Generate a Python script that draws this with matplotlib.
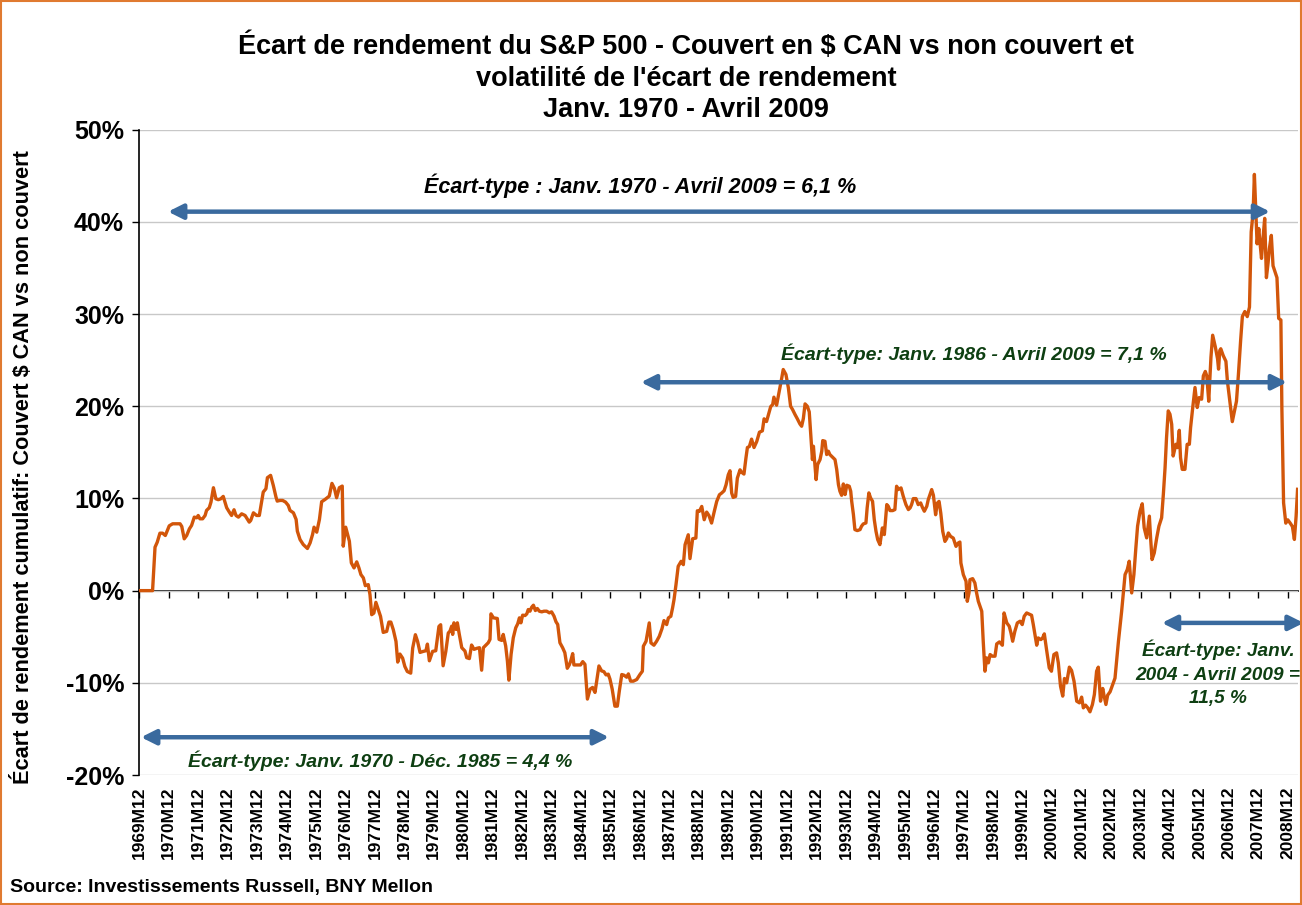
import matplotlib.pyplot as plt
import numpy as np
from matplotlib.patches import Rectangle

plt.rcParams['font.family'] = ['Liberation Sans', 'DejaVu Sans']

LINE_COLOR = '#D2560A'
ARROW_COLOR = '#3A6A9E'
NOTE_GREEN = '#0E3F12'

# months counted from 1969M12 (= 0), values in % (cumulative spread)
MONTHS_70S = [
    0, 5.4, 6.4, 7.3, 8.4, 9.5, 10.6, 12.2, 13.6, 16.6, 17.3, 18.3, 19.3, 20.4,
    21.3, 22.4, 23.4, 24.0, 24.7, 25.8, 26.8, 27.4, 28.5, 29.2, 30.2, 31.2, 32.2,
    33.2, 34.2, 35.6, 36.7, 37.6, 38.6, 39.4, 40.4, 41.7, 43.1, 44.8, 45.4, 46.5,
    47.8, 48.9, 49.9, 50.5, 51.6, 52.2, 53.5, 54.6, 55.7, 56.2, 57.3, 58.4, 59.6,
    60.7, 61.4, 62.8, 63.9, 64.4, 65.5, 66.8, 68.5, 69.6, 70.6, 71.2, 72.3, 73.4,
    74.3, 75.7, 77.4, 78.5, 79.5, 80.4, 81.5, 82.7, 83.1, 84.1, 84.9, 85.6, 86.4,
    87.5, 88.6, 89.5, 90.3, 91.3, 92.1, 93.3, 94.0, 94.7, 95.6, 96.4, 97.4, 98.3,
    99.4, 100.8, 101.7, 102.5, 103.5, 104.6, 105.3, 106.2, 107.3, 108.2, 109.2,
    110.6, 111.4, 112.5, 113.4, 114.4, 115.7, 116.8, 117.4, 118.2, 119.5, 120.8,
    122.1, 122.8, 123.8, 124.9, 125.9,
]
SPREAD_70S = [
    0, 0, 4.71, 5.25, 6.23, 6.23, 5.98, 7.03, 7.25, 7.25, 6.96, 5.62, 5.98, 6.70,
    7.07, 7.97, 7.90, 8.15, 7.79, 7.79, 8.15, 8.70, 8.99, 9.60, 11.16, 9.96, 9.86,
    9.96, 10.22, 8.99, 8.51, 8.15, 8.77, 8.15, 7.97, 8.33, 8.15, 7.43, 7.61, 8.44,
    8.15, 8.15, 9.78, 10.69, 11.05, 12.25, 12.5, 11.41, 10.14, 9.71, 9.78, 9.78, 9.60,
    9.24, 8.70, 8.44, 7.72, 6.45, 5.54, 5.0, 4.57, 5.18, 6.09, 6.88, 6.34, 7.72,
    9.64, 9.89, 10.25, 11.63, 11.09, 10.07, 11.16, 11.34, 4.82, 6.88, 6.09, 5.36, 3.01,
    2.46, 3.12, 2.46, 1.74, 1.38, 0.54, 0.65, -0.43, -2.61, -2.43, -1.27, -2.07, -2.79,
    -4.53, -4.42, -3.41, -3.41, -4.24, -5.51, -7.75, -6.88, -7.32, -8.22, -8.77,
    -8.95, -6.23, -4.78, -5.51, -6.70, -6.59, -6.52, -5.80, -7.61, -6.59, -6.52,
    -3.88, -3.70, -8.15, -6.59, -4.60,
]

MONTHS_80S = [
    126.6, 127.3, 127.7, 128.2, 129.1, 129.6, 130.4, 131.4, 132.7, 133.4, 134.5,
    135.4, 136.4, 137.5, 138.6, 139.5, 140.2, 141.3, 142.2, 142.9, 143.3, 144.3,
    145.9, 146.6, 147.7, 148.3, 149.3, 150.0, 150.6, 151.5, 152.4, 153.4, 154.2,
    154.9, 155.5, 156.2, 157.2, 157.9, 158.5, 159.2, 159.9, 160.6, 161.4, 162.2,
    163.0, 164.0, 164.9, 166.0, 167.1, 168.0, 169.0, 169.8, 170.5, 171.4, 172.5,
    173.4, 174.4, 175.2, 175.8, 176.6, 177.1, 178.5, 179.8, 180.7, 181.6, 182.6,
    183.7, 184.7, 185.7, 186.6, 187.3, 188.4, 189.3, 190.2, 191.1, 191.8, 192.7,
    193.8, 194.8, 195.6, 196.6, 197.5, 198.6, 199.3, 200.2, 201.3, 202.7, 204.0,
    205.0, 205.4, 206.5, 207.1, 207.8, 208.5, 209.7, 210.8, 211.9, 213.0, 213.8,
    214.9, 215.6, 216.6, 217.3, 217.9, 218.7, 219.6, 220.8, 221.7, 222.4, 223.7,
    224.4, 225.5, 226.8, 227.4, 228.2, 229.2, 230.2, 231.2, 232.1, 233.2, 234.3,
    235.3, 236.4, 237.3, 238.3, 239.1, 240.0, 240.7, 241.4, 242.0, 243.0, 243.7,
    244.8, 245.4, 246.4, 247.2, 247.8, 248.6, 249.5, 250.5, 251.6, 252.7, 253.9,
    254.6, 255.6, 256.3, 257.3,
]
SPREAD_80S = [
    -4.39, -3.85, -4.75, -3.49, -4.21, -3.49, -4.75, -6.19, -6.55, -7.27, -7.37,
    -5.90, -6.37, -6.26, -6.19, -8.63, -6.19, -5.90, -5.65, -5.29, -2.52, -2.95,
    -3.02, -5.29, -5.40, -4.75, -6.01, -7.63, -9.71, -6.91, -5.11, -4.03, -3.60,
    -2.95, -3.49, -2.66, -2.70, -2.52, -2.05, -2.23, -1.80, -1.58, -2.16, -1.94,
    -2.23, -2.30, -2.23, -2.23, -2.41, -2.30, -2.77, -3.38, -3.67, -5.65, -6.19,
    -6.73, -8.42, -8.06, -7.63, -6.83, -8.06, -8.06, -8.06, -7.70, -7.99, -11.76,
    -10.68, -10.50, -11.04, -9.42, -8.17, -8.71, -8.78, -9.14, -9.06, -9.60, -10.68,
    -12.53, -12.53, -10.90, -9.10, -9.17, -9.39, -9.03, -9.82, -9.82, -9.64, -9.10,
    -8.74, -6.03, -5.49, -4.58, -3.50, -5.67, -5.92, -5.49, -4.95, -4.12, -3.25,
    -3.68, -2.96, -2.78, -1.88, -0.97, 0.65, 2.64, 3.18, 2.82, 4.98, 6.06,
    3.47, 5.63, 5.70, 8.66, 8.59, 9.13, 7.69, 8.52, 8.16, 7.33, 8.59,
    9.68, 10.40, 10.58, 10.83, 11.48, 12.56, 13.00, 10.58, 10.11, 10.22, 12.20,
    13.10, 12.85, 12.64, 14.37, 15.52, 15.63, 16.43, 15.52, 16.17, 17.18, 17.33,
    18.63, 18.34, 18.99, 19.96,
]

MONTHS_90S = [
    258.1, 258.6, 259.7, 260.8, 261.8, 262.4, 263.5, 264.5, 265.4, 266.2, 267.2,
    268.1, 269.2, 269.9, 270.6, 271.3, 272.2, 273.0, 273.6, 274.3, 274.7, 275.1,
    275.8, 276.4, 277.4, 278.1, 278.5, 279.4, 280.1, 280.8, 281.4, 282.1, 282.8,
    283.5, 284.2, 284.9, 285.5, 286.2, 286.9, 287.6, 288.3, 289.3, 289.9, 290.3,
    291.0, 291.6, 292.6, 293.7, 294.3, 295.0, 296.1, 296.6, 297.3, 298.0, 298.8,
    299.5, 300.2, 300.9, 301.8, 302.8, 303.6, 304.6, 305.2, 305.9, 307.0, 307.9,
    308.6, 309.3, 310.4, 311.3, 312.4, 313.4, 314.1, 314.7, 315.4, 316.5, 317.4,
    318.4, 319.1, 319.9, 320.9, 321.5, 322.2, 322.9, 323.6, 324.5, 325.2, 325.9,
    326.6, 327.4, 328.3, 329.0, 329.7, 330.6, 331.7, 332.8, 333.7, 334.4, 334.8,
    335.8, 336.9, 337.4, 338.1, 338.5, 339.6, 340.5, 341.2, 341.9, 342.6, 343.3,
    343.9, 344.6, 345.3, 346.0, 346.7, 347.6, 348.7, 349.4, 350.5, 351.7, 352.4,
    353.5, 354.5, 355.2, 355.9, 356.8, 357.8, 358.9, 359.8, 360.6, 361.6, 362.5,
    363.6, 364.3, 365.0, 365.7, 366.3, 367.4, 368.1, 368.8, 369.7, 370.8, 371.7,
    372.7, 373.8, 374.5, 375.4, 376.3, 377.0, 377.9, 379.0, 379.9, 380.9, 382.0,
    383.1, 384.0, 384.7, 385.6, 386.5, 387.4, 388.4, 389.2, 390.1, 390.8, 391.7,
    392.6, 393.1, 393.9, 394.6, 395.6,
]
SPREAD_90S = [
    20.18, 20.98, 20.11, 21.63, 23.07, 23.98, 23.44, 21.99, 20.0, 19.64, 19.10,
    18.66, 18.08, 17.83, 18.66, 20.25, 20.0, 19.39, 16.93, 14.21, 15.66, 14.39,
    12.04, 13.67, 14.21, 15.12, 16.27, 16.20, 14.76, 15.12, 14.76, 14.58, 14.39,
    14.21, 13.13, 11.50, 10.78, 10.34, 11.57, 10.42, 11.43, 11.32, 10.78, 9.69,
    8.25, 6.62, 6.51, 6.62, 6.98, 7.23, 7.34, 8.97, 10.60, 10.05, 9.69,
    7.70, 6.44, 5.53, 4.99, 6.80, 6.08, 9.33, 9.15, 8.68, 8.68, 8.79,
    11.32, 10.96, 11.14, 10.24, 9.33, 8.79, 8.97, 9.33, 9.98, 9.98, 9.33,
    9.51, 9.04, 8.61, 9.15, 9.87, 10.42, 10.96, 10.34, 8.23, 9.49, 9.68,
    8.41, 6.43, 5.34, 5.63, 6.25, 5.88, 5.70, 4.80, 5.16, 5.27, 3.0,
    1.73, 1.01, -1.16, -0.25, 1.19, 1.30, 0.83, -0.25, -1.16, -1.70, -2.24,
    -5.49, -8.74, -7.29, -7.83, -6.93, -7.11, -7.11, -5.78, -5.56, -5.92, -2.42,
    -3.50, -3.86, -4.58, -5.49, -4.40, -3.50, -3.32, -3.68, -2.78, -2.42, -2.53,
    -2.67, -3.68, -4.77, -5.92, -5.13, -5.31, -5.13, -4.69, -6.39, -8.38, -8.74,
    -6.93, -6.75, -7.83, -10.36, -11.44, -9.53, -10.0, -8.30, -8.66, -9.82, -11.99,
    -12.17, -11.55, -12.71, -12.42, -12.71, -13.14, -12.35, -11.26, -8.74, -8.30, -11.99,
    -10.61, -11.34, -12.35, -11.34, -10.97,
]

MONTHS_00S = [
    397.6, 399.0, 400.3, 401.0, 401.7, 402.6, 403.4, 404.4, 405.3, 406.1, 406.8,
    407.8, 408.7, 409.5, 410.5, 411.6, 412.1, 412.7, 413.6, 414.6, 415.5, 416.6,
    417.3, 418.0, 418.6, 419.3, 420.0, 420.7, 421.3, 422.4, 423.1, 423.8, 424.3,
    425.0, 426.1, 427.0, 427.9, 428.4, 429.2, 430.2, 431.1, 431.9, 432.9, 433.6,
    434.4, 435.0, 435.8, 436.7, 437.4, 438.5, 439.4, 439.8, 440.3, 440.7, 441.7,
    442.8, 443.4, 444.4, 445.4, 446.1, 447.1, 447.9, 448.8, 449.5, 450.5, 451.5,
    452.4, 453.1, 453.9, 454.4, 455.0, 455.5, 456.2, 456.6, 457.3, 457.9, 458.6,
    459.3, 460.0, 460.5, 461.3, 462.0, 462.9, 463.6, 464.3, 465.2, 465.6, 466.3,
    467.2, 468.0, 469.0, 469.9, 470.7, 471.4, 472.0,
]
SPREAD_00S = [
    -9.49, -5.51, -2.25, -0.25, 1.74, 2.28, 3.19, -0.25, 1.74, 4.64, 6.99,
    8.62, 9.42, 6.81, 5.72, 8.08, 5.72, 3.37, 4.09, 5.72, 6.99, 7.90,
    10.43, 13.33, 16.59, 19.49, 19.13, 18.04, 14.60, 15.87, 15.51, 17.39, 14.42,
    13.15, 13.15, 15.87, 15.87, 17.68, 19.67, 22.03, 19.86, 20.94, 20.76, 23.29,
    23.77, 23.29, 20.54, 25.31, 27.70, 26.41, 25.13, 24.02, 26.04, 26.23, 25.49,
    24.87, 22.74, 20.54, 18.33, 19.25, 20.54, 23.47, 27.15, 29.72, 30.27, 29.72,
    30.75, 38.90, 41.10, 45.14, 41.10, 37.61, 39.27, 37.98, 36.03, 38.16, 40.37,
    33.94, 35.59, 37.06, 38.53, 35.23, 34.49, 33.94, 29.53, 29.35, 19.80, 9.52,
    7.32, 7.68, 7.32, 6.95, 5.55, 8.05, 10.99,
]

TICK_MONTHS = list(range(0, 469, 12))
TICK_LABELS = [f'{1969 + i}M12' for i in range(len(TICK_MONTHS))]
Y_TICKS = [-20, -10, 0, 10, 20, 30, 40, 50]

TITLE = ("Écart de rendement du S&P 500 - Couvert en $ CAN vs non couvert et\n"
         "volatilité de l'écart de rendement\n"
         "Janv. 1970 - Avril 2009")
Y_LABEL = 'Écart de rendement cumulatif: Couvert $ CAN vs non couvert'
SOURCE = 'Source: Investissements Russell, BNY Mellon'

# (start month, end month, level %, label, label month, label level %, colour, size)
NOTES = [
    (11.7, 460.8, 41.1, 'Écart-type : Janv. 1970 - Avril 2009 = 6,1 %', 204, 43.9, 'black', 15.5),
    (204.4, 467.7, 22.6, 'Écart-type: Janv. 1986 - Avril 2009 = 7,1 %', 340, 25.7, NOTE_GREEN, 14),
    (0.7, 191.4, -15.9, 'Écart-type: Janv. 1970 - Déc. 1985 = 4,4 %', 98, -18.5, NOTE_GREEN, 14),
    (416.7, 474.5, -3.5, 'Écart-type: Janv.\n2004 - Avril 2009 =\n11,5 %', 439.6, -9.0, NOTE_GREEN, 13.7),
]


def main() -> None:
    months = np.concatenate([MONTHS_70S, MONTHS_80S, MONTHS_90S, MONTHS_00S])
    spread = np.concatenate([SPREAD_70S, SPREAD_80S, SPREAD_90S, SPREAD_00S])

    fig = plt.figure(figsize=(13.02, 9.05), dpi=100)
    ax = fig.add_axes([0.107, 0.1436, 0.8896, 0.7132])

    y_min, y_max = -20, 50
    ax.set_xlim(0, 472)
    ax.set_ylim(y_min, y_max)

    ax.plot(months, spread, color=LINE_COLOR, linewidth=2.4, zorder=3)

    ax.set_yticks(Y_TICKS)
    ax.set_yticklabels([f'{v}%' for v in Y_TICKS], fontsize=18, fontweight='bold')
    ax.tick_params(axis='y', direction='out', length=5, width=1, pad=6)
    ax.yaxis.grid(True, color='#C8C8C8', linewidth=1)
    ax.set_axisbelow(True)

    ax.set_xticks(TICK_MONTHS)
    ax.set_xticklabels(TICK_LABELS, rotation=90, fontsize=12.5, fontweight='bold')
    ax.tick_params(axis='x', length=0, pad=8)

    for side in ('top', 'right', 'bottom'):
        ax.spines[side].set_visible(False)
    ax.spines['left'].set_linewidth(1.2)

    # horizontal category axis crossing at 0 %
    zero_pos = (0 - y_min) / (y_max - y_min)
    sec = ax.secondary_xaxis(zero_pos)
    sec.set_xticks(TICK_MONTHS)
    sec.set_xticklabels([''] * len(TICK_MONTHS))
    sec.tick_params(direction='out', length=5, width=1)
    sec.spines['bottom'].set_linewidth(1.2)

    for start, end, level, label, lx, ly, colour, size in NOTES:
        ax.annotate(
            '', xy=(end, level), xytext=(start, level),
            arrowprops=dict(arrowstyle='<|-|>', color=ARROW_COLOR, lw=3.2,
                            mutation_scale=22, shrinkA=0, shrinkB=0),
            annotation_clip=False, zorder=4,
        )
        ax.text(lx, ly, label, ha='center', va='center', color=colour,
                fontsize=size, fontweight='bold', fontstyle='italic',
                linespacing=1.5, clip_on=False, zorder=5)

    fig.text(0.527, 0.9138, TITLE, ha='center', va='center', fontsize=19.5,
             fontweight='bold', linespacing=1.28)
    fig.text(0.018, 0.484, Y_LABEL, rotation=90, ha='center', va='center',
             fontsize=15.7, fontweight='bold')
    fig.text(0.008, 0.019, SOURCE, ha='left', va='center', fontsize=14,
             fontweight='bold')

    fig.patches.append(Rectangle((0.001, 0.001), 0.998, 0.998, transform=fig.transFigure,
                                 fill=False, edgecolor='#E07A30', linewidth=1.5))

    fig.savefig('out.png', dpi=100)


if __name__ == '__main__':
    main()
